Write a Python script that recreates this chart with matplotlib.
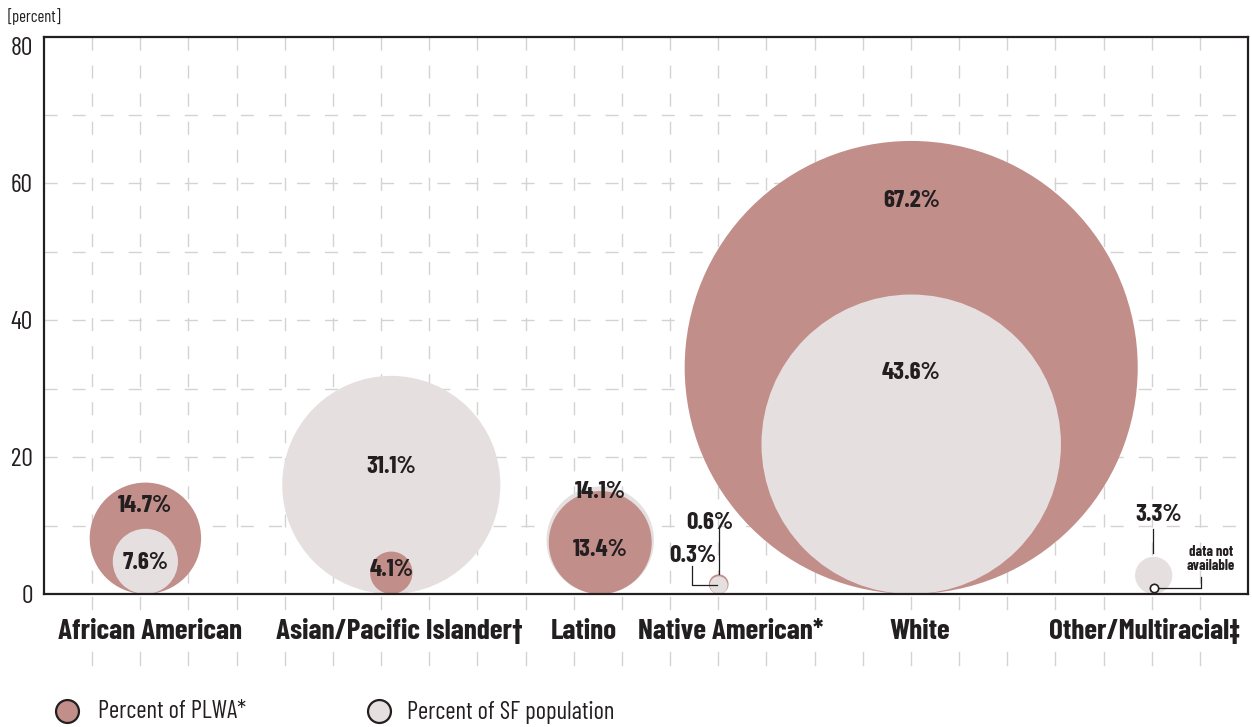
import matplotlib.pyplot as plt
from matplotlib.patches import Circle
from matplotlib.lines import Line2D

# share of people living with AIDS vs share of SF population, by race/ethnicity
categories=[
    "African American",
    "Asian/Pacific Islander\u2020",
    "Latino",
    "Native American*",
    "White",
    "Other/Multiracial\u2021"
]
plwa=[14.7,4.1,13.4,0.6,67.2,None]
sf_pop=[7.6,31.1,14.1,0.3,43.6,3.3]
y_ticks=[0,20,40,60,80]

# layout
bubble_x=[14.8,50.7,81.2,98.5,126.6,162.0]
name_x=[15.5,51.9,78.8,100.3,127.9,160.7]
plwa_label_y=[12.8,3.5,6.4,10.4,57.3,None]
sf_label_y=[4.5,18.5,14.9,5.5,32.3,11.5]
plwa_label_x=[None,None,None,97.2,None,None]
sf_label_x=[None,None,None,94.7,None,162.8]

ROSE="#c28e8a"
LIGHT="#e5e0df"
INK="#231f20"
GRID="#d3d3d3"
FONT=["Barlow Condensed","DejaVu Sans"]

PX=6.85            # pixels per percent
W,H=1252,727
AX_L,AX_R,AX_T,AX_B=44,1248,37,594


def diameter(v):
    # small shares get a minimum visible size
    return 2.3+0.95*v


fig=plt.figure(figsize=(W/100,H/100),dpi=100)
ax=fig.add_axes([
    AX_L/W,
    (H-AX_B)/H,
    (AX_R-AX_L)/W,
    (AX_B-AX_T)/H
])

xmax=(AX_R-AX_L)/PX
ymax=(AX_B-AX_T)/PX
ax.set_xlim(0,xmax)
ax.set_ylim(0,ymax)

# dashed grid: 25 columns, rows every 10 points
for k in range(1,25):
    gx=k*xmax/25
    ax.plot([gx,gx],[ymax,0],color=GRID,lw=1.0,dashes=(9.4,10.8),zorder=0)
    for y0,y1 in [(-0.45,-2.2),(-8.5,-10.3)]:
        ax.plot([gx,gx],[y0,y1],color=GRID,lw=1.0,clip_on=False,zorder=0)

for gy in range(10,80,10):
    ax.plot([0,xmax],[gy,gy],color=GRID,lw=1.0,
            dashes=(9.4,10.8),dash_capstyle="butt",zorder=0)

# bubbles, both sitting on the baseline, larger one drawn first
for i in range(len(categories)):
    pair=[]
    if plwa[i] is not None:
        pair.append((plwa[i],ROSE))
    pair.append((sf_pop[i],LIGHT))
    pair.sort(key=lambda t:-t[0])
    for v,c in pair:
        d=diameter(v)
        ax.add_patch(Circle((bubble_x[i],d/2),d/2,facecolor=c,edgecolor="none",zorder=2))

label_kw=dict(
    family=FONT,
    fontweight="bold",
    fontsize=18,
    color=INK,
    ha="center",
    va="center",
    zorder=5
)

for i in range(len(categories)):
    if plwa[i] is not None:
        lx=plwa_label_x[i] if plwa_label_x[i] is not None else bubble_x[i]
        ax.text(lx,plwa_label_y[i],f"{plwa[i]:.1f}%",**label_kw)
    lx=sf_label_x[i] if sf_label_x[i] is not None else bubble_x[i]
    ax.text(lx,sf_label_y[i],f"{sf_pop[i]:.1f}%",**label_kw)

# Native American leaders
na=3
ax.plot([bubble_x[na],bubble_x[na]],[plwa_label_y[na]-0.9,diameter(plwa[na])],
        color=INK,lw=0.9,zorder=4)
ax.plot([sf_label_x[na]-0.05,sf_label_x[na]-0.05,bubble_x[na]-0.3],
        [sf_label_y[na]-1.4,diameter(sf_pop[na])/2,diameter(sf_pop[na])/2],
        color=INK,lw=0.9,zorder=4)

# Other/Multiracial: population leader and "data not available" marker
ot=5
ax.plot([bubble_x[ot]-0.05,bubble_x[ot]-0.05],
        [sf_label_y[ot]-2.0,diameter(sf_pop[ot])+0.6],
        color=INK,lw=0.9,zorder=4)
na_y=0.92
ax.plot([bubble_x[ot]],[na_y],marker="o",ms=6,mfc="white",mec=INK,mew=1.2,zorder=6)
ax.plot([bubble_x[ot]+0.6,168.9,168.9],[na_y,na_y,2.5],color=INK,lw=0.9,zorder=4)
ax.text(170.4,5.1,"data not\navailable",family=FONT,fontweight="bold",
        fontsize=10.5,color=INK,ha="center",va="center",linespacing=1.0,zorder=5)

# category names under the axis
for i,name in enumerate(categories):
    ax.text(name_x[i],-5.45,name,family=FONT,fontweight="bold",fontsize=21,
            color=INK,ha="center",va="center",clip_on=False)

ax.set_yticks(y_ticks)
ax.set_yticklabels([str(t) for t in y_ticks],family=FONT,fontsize=18.5,color=INK)
ax.set_xticks([])
ax.tick_params(axis="y",length=0,pad=8)
for s in ax.spines.values():
    s.set_color(INK)
    s.set_linewidth(1.6)
    s.set_zorder(7)

fig.text(8/W,1-17/H,"[percent]",family=FONT,fontsize=12,color=INK,ha="left",va="center")

# legend
for mx,tx,c,txt in [(67,98,ROSE,"Percent of PLWA*"),
                    (378.5,407,LIGHT,"Percent of SF population")]:
    fig.add_artist(Line2D([mx/W],[1-711/H],marker="o",ms=16.5,mfc=c,mec=INK,mew=1.6,
                          transform=fig.transFigure))
    fig.text(tx/W,1-712/H,txt,family=FONT,fontsize=17.8,color=INK,ha="left",va="center")

fig.savefig("out.png",dpi=100)
